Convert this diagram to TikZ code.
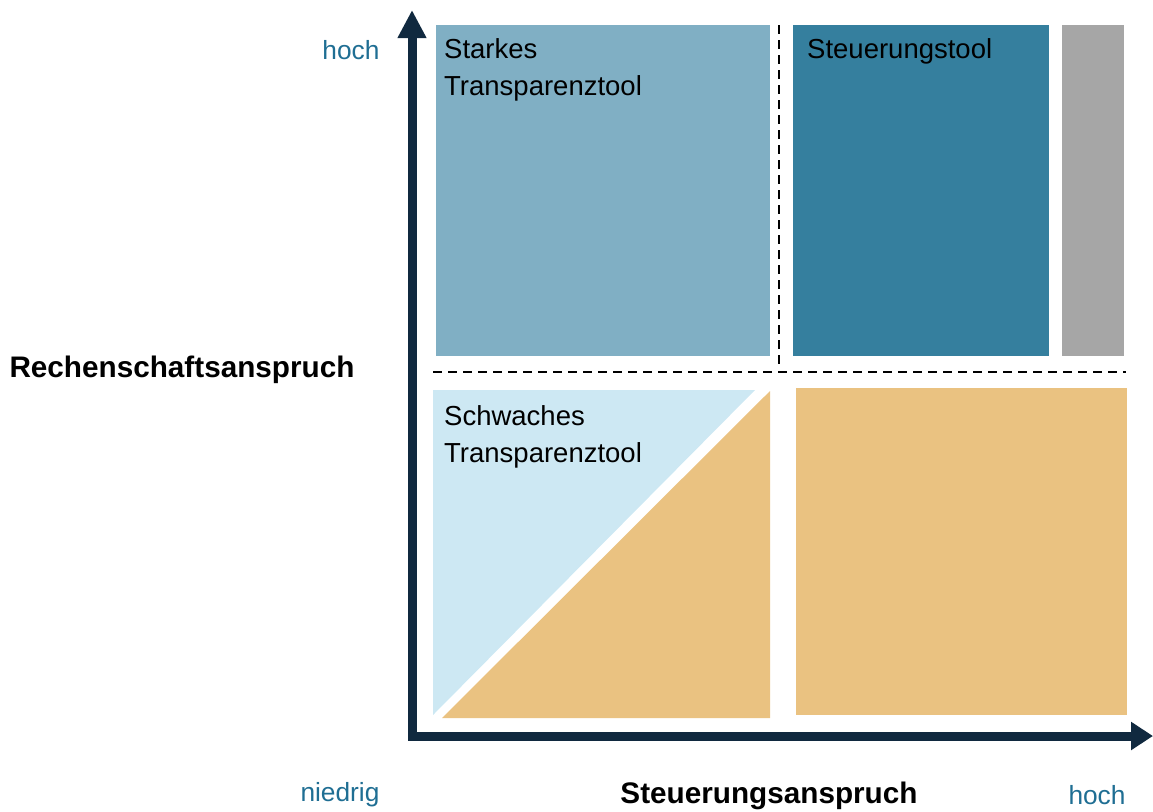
\documentclass[tikz,border=0pt]{standalone}
\usepackage{fontspec}
\setmainfont{Liberation Sans}
\usetikzlibrary{arrows.meta}
\definecolor{cLight}{HTML}{80AFC4}
\definecolor{cTeal}{HTML}{357F9E}
\definecolor{cGray}{HTML}{A6A6A6}
\definecolor{cPale}{HTML}{CDE8F3}
\definecolor{cOrange}{HTML}{EAC281}
\definecolor{cText}{HTML}{1F6E93}
\definecolor{cAxis}{HTML}{10293F}
\tikzset{
  boxtext/.style={anchor=north west, inner sep=0pt, align=left, font=\fontsize{27.5}{37}\selectfont, text=black},
  levellabel/.style={inner sep=0pt, font=\fontsize{26.3}{30}\selectfont, text=cText},
  axislabel/.style={inner sep=0pt, font=\fontsize{29.7}{34}\selectfont\bfseries, text=black},
  divider/.style={line width=1.8pt, dash pattern=on 9pt off 6pt},
  axisline/.style={line width=9pt, draw=cAxis, line join=miter,
    {Triangle[width=27pt,length=28pt]}-{Triangle[width=27pt,length=22pt]}}
}
\begin{document}
\begin{tikzpicture}[x=1pt,y=-1pt]
\useasboundingbox (0,0) rectangle (1153,811);
% quadrants
\fill[cLight] (436,25) rectangle (770,356);
\fill[cTeal] (793,25) rectangle (1049,356);
\fill[cGray] (1062,25) rectangle (1124,356);
\fill[cPale] (433,390) -- (755,390) -- (433,715) -- cycle;
\fill[cOrange] (770,391) -- (770,718) -- (442,718) -- cycle;
\fill[cOrange] (796,388) rectangle (1127,715);
% dividers
\coordinate (vtop) at (779,25);
\coordinate (vbot) at (779,366);
\coordinate (hl) at (433,372);
\coordinate (hr) at (1126,372);
\draw[divider] (vtop) -- (vbot);
\draw[divider] (hl) -- (hr);
% axes
\coordinate (ytip) at (412,10);
\coordinate (origin) at (412,736);
\coordinate (xtip) at (1153,736);
\draw[axisline] (ytip) -- (origin) -- (xtip);
% texts
\node[boxtext] (t1) at (444,38) {Starkes\\Transparenztool};
\node[boxtext] (t2) at (807,38) {Steuerungstool};
\node[boxtext] (t3) at (444,405) {Schwaches\\Transparenztool};
\node[levellabel] (yhoch) at (351,50) {hoch};
\node[levellabel] (xlow) at (340,795) {niedrig};
\node[levellabel] (xhoch) at (1097,795) {hoch};
\node[axislabel] (ylab) at (182,370) {Rechenschaftsanspruch};
\node[axislabel] (xlab) at (769,796) {Steuerungsanspruch};
\end{tikzpicture}
\end{document}
